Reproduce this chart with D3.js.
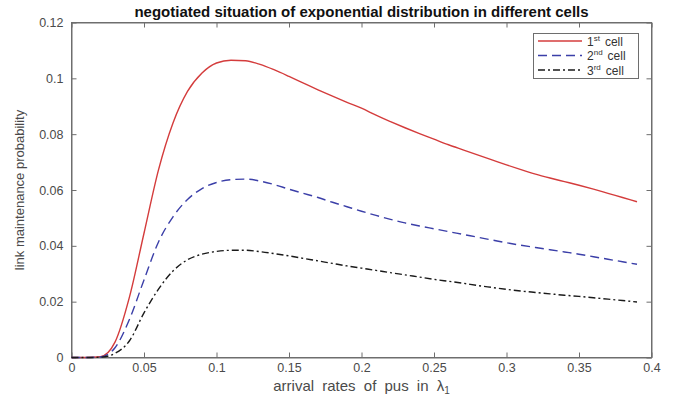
<!DOCTYPE html>
<html><head><meta charset="utf-8">
<script src="https://cdn.jsdelivr.net/npm/d3@7"></script>
<style>body{margin:0;background:#fff;} svg{display:block;font-family:"Liberation Sans",Arial,sans-serif;}</style>
</head><body><svg id="c" width="675" height="397"></svg>
<script>
const xs = [0,0.01,0.02,0.03,0.04,0.05,0.06,0.07,0.08,0.09,0.10,0.11,0.12,0.13,0.14,0.15,0.16,0.17,0.18,0.19,0.20,0.21,0.22,0.23,0.24,0.25,0.26,0.27,0.28,0.29,0.30,0.31,0.32,0.33,0.34,0.35,0.36,0.37,0.38,0.39];
const cell1 = [0,0,0.0003,0.0055,0.0217,0.0445,0.0672,0.0840,0.0953,0.1019,0.1055,0.1065,0.1063,0.1050,0.1030,0.1007,0.0983,0.0959,0.0936,0.0914,0.0893,0.0868,0.0845,0.0823,0.0802,0.0782,0.0762,0.0744,0.0726,0.0708,0.0690,0.0673,0.0657,0.0643,0.0630,0.0617,0.0603,0.0588,0.0573,0.0558];
const cell2 = [0,0,0.0002,0.0035,0.0137,0.0278,0.0414,0.0504,0.0566,0.0605,0.0627,0.0637,0.0639,0.0632,0.0619,0.0603,0.0588,0.0573,0.0556,0.0540,0.0524,0.0509,0.0495,0.0482,0.0471,0.0461,0.0451,0.0441,0.0431,0.0421,0.0411,0.0402,0.0394,0.0386,0.0378,0.0370,0.0361,0.0352,0.0343,0.0334];
const cell3 = [0,0,0.0001,0.0015,0.0060,0.0160,0.0245,0.0310,0.0350,0.0370,0.0380,0.0384,0.0384,0.0379,0.0372,0.0364,0.0355,0.0346,0.0337,0.0328,0.0320,0.0312,0.0304,0.0296,0.0288,0.0280,0.0273,0.0266,0.0258,0.0251,0.0244,0.0238,0.0233,0.0228,0.0223,0.0219,0.0214,0.0209,0.0204,0.0199];
const xTicks = [0,0.05,0.1,0.15,0.2,0.25,0.3,0.35,0.4];
const xTickLabels = ["0","0.05","0.1","0.15","0.2","0.25","0.3","0.35","0.4"];
const yTicks = [0,0.02,0.04,0.06,0.08,0.1,0.12];
const yTickLabels = ["0","0.02","0.04","0.06","0.08","0.1","0.12"];
const seriesNames = ["1st cell","2nd cell","3rd cell"];
const seriesSup = ["st","nd","rd"];

const svg = d3.select("#c");
const L=71.5, R=651.5, T=22.5, B=357.5;
const x = d3.scaleLinear().domain([0,0.4]).range([L,R]);
const y = d3.scaleLinear().domain([0,0.12]).range([B,T]);
const axisCol = "#6e6e6e", textCol="#4a4a4a";

// frame
svg.append("rect").attr("x",L).attr("y",T).attr("width",R-L).attr("height",B-T)
  .attr("fill","none").attr("stroke",axisCol).attr("stroke-width",1);

const fmtX = (d,i)=>xTickLabels[i], fmtY=(d,i)=>yTickLabels[i];
const gxB = svg.append("g").attr("transform",`translate(0,${B})`)
  .call(d3.axisBottom(x).tickValues(xTicks).tickFormat(fmtX).tickSizeInner(-5).tickSizeOuter(0).tickPadding(6));
const gxT = svg.append("g").attr("transform",`translate(0,${T})`)
  .call(d3.axisTop(x).tickValues(xTicks).tickFormat("").tickSizeInner(-5).tickSizeOuter(0));
const gyL = svg.append("g").attr("transform",`translate(${L},0)`)
  .call(d3.axisLeft(y).tickValues(yTicks).tickFormat(fmtY).tickSizeInner(-5).tickSizeOuter(0).tickPadding(8));
const gyR = svg.append("g").attr("transform",`translate(${R},0)`)
  .call(d3.axisRight(y).tickValues(yTicks).tickFormat("").tickSizeInner(-5).tickSizeOuter(0));
[gxB,gxT,gyL,gyR].forEach(g=>{
  g.select(".domain").attr("stroke",axisCol);
  g.selectAll(".tick line").attr("stroke",axisCol);
  g.selectAll(".tick text").attr("fill",textCol).attr("font-size",12.5).attr("font-family","Liberation Sans, Arial, sans-serif");
});

// lines
const line = d3.line().x((d,i)=>x(xs[i])).y(d=>y(d)).curve(d3.curveMonotoneX);
const styles = [
  {data:cell1,color:"#d43c3c",dash:null},
  {data:cell2,color:"#3b3fa8",dash:"9,5"},
  {data:cell3,color:"#1a1a1a",dash:"7,3,2,3"}
];
styles.forEach(s=>{
  svg.append("path").datum(s.data).attr("d",line).attr("fill","none")
    .attr("stroke",s.color).attr("stroke-width",1.4)
    .attr("stroke-dasharray",s.dash);
});

// title
svg.append("text").attr("x",(L+R)/2).attr("y",17).attr("text-anchor","middle")
  .attr("font-size",15).attr("font-weight","bold").attr("fill","#111")
  .text("negotiated situation of exponential distribution in different cells");

// x label
const xl = svg.append("text").attr("x",(L+R)/2).attr("y",391).attr("text-anchor","middle")
  .attr("font-size",15).attr("fill",textCol).attr("word-spacing",4);
xl.append("tspan").text("arrival rates of pus in λ");
xl.append("tspan").attr("font-size",10).attr("dy",3).text("1");

// y label
svg.append("text").attr("transform",`translate(24,${(T+B)/2}) rotate(-90)`).attr("text-anchor","middle")
  .attr("font-size",13).attr("fill",textCol).text("link maintenance probability");

// legend
const lg = svg.append("g");
lg.append("rect").attr("x",533.5).attr("y",33.5).attr("width",105).attr("height",45)
  .attr("fill","#fff").attr("stroke",axisCol);
styles.forEach((s,i)=>{
  const yy = 41 + i*14.5;
  lg.append("line").attr("x1",538).attr("x2",582).attr("y1",yy).attr("y2",yy)
    .attr("stroke",s.color).attr("stroke-width",1.4).attr("stroke-dasharray",s.dash);
  const t = lg.append("text").attr("x",587).attr("y",yy+4.5).attr("font-size",12).attr("fill","#333");
  t.append("tspan").text(seriesNames[i].charAt(0));
  t.append("tspan").attr("font-size",8).attr("dy",-5).text(seriesSup[i]);
  t.append("tspan").attr("dy",5).attr("dx",5).text("cell");
});
</script></body></html>
